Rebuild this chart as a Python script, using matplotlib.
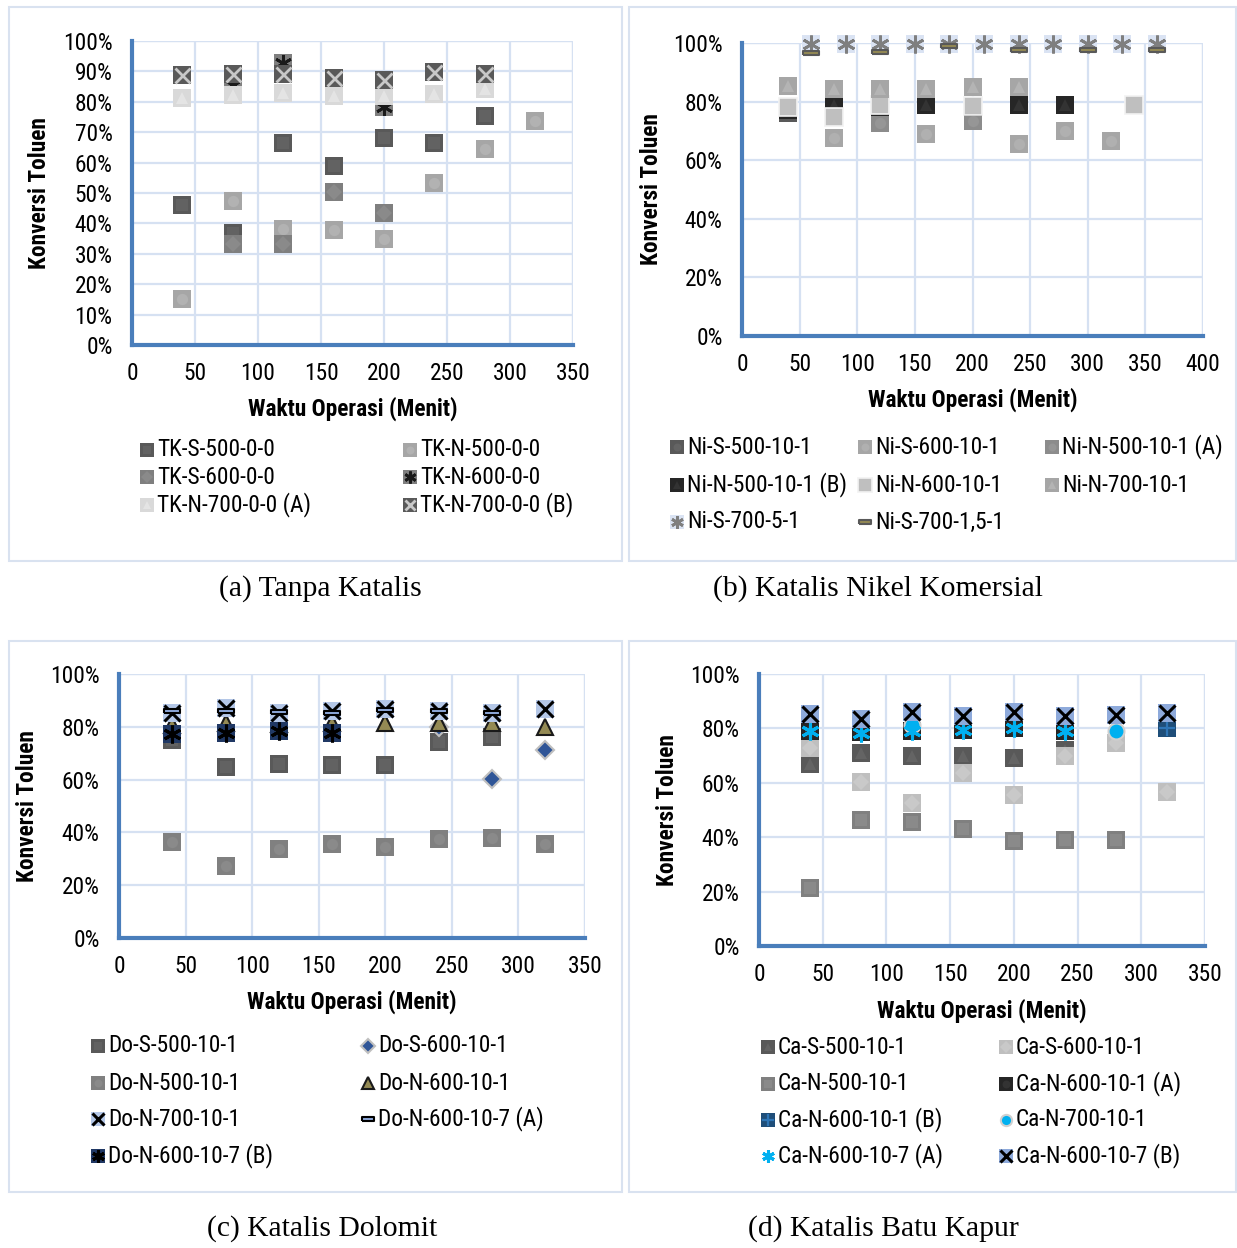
import matplotlib
matplotlib.use("Agg")
import matplotlib.pyplot as plt
from matplotlib import font_manager
from matplotlib.font_manager import FontProperties
from matplotlib.patches import Rectangle
from matplotlib.ticker import FuncFormatter, MultipleLocator

W, H = 1237, 1248
SERIF = ["Liberation Serif", "DejaVu Serif"]


def narrow_pair():
    # a narrow sans with static regular + bold faces (Arial Narrow look-alike)
    prefs = [("Roboto Condensed", 16.8, 16.8), ("Liberation Sans Narrow", 16.8, 16.8),
             ("PT Sans Narrow", 16.8, 16.8), ("DejaVu Sans", 15, 15)]
    ents = font_manager.fontManager.ttflist
    for fam, size, tsize in prefs:
        reg = bold = None
        for f in ents:
            if f.name != fam or f.style != "normal" or "[" in f.fname:
                continue
            if fam == "DejaVu Sans" and "Condensed" not in f.fname:
                continue
            if f.weight in (400, "normal", "regular") and reg is None:
                reg = f.fname
            if f.weight in (700, "bold") and bold is None:
                bold = f.fname
        if reg and bold:
            return FontProperties(fname=reg), FontProperties(fname=bold), size, tsize
    return (FontProperties(family="Liberation Sans"),
            FontProperties(family="Liberation Sans", weight="bold"), 14, 14)


FP, FPB, FS, FST = narrow_pair()

# ---------------- data (minutes, % conversion) ----------------
# (a) Tanpa Katalis
tk_s_500_t = [40, 80, 120, 160, 200, 240, 280]
tk_s_500 = [46, 37, 66.5, 58.8, 68, 66.3, 75.4]
tk_n_500_t = [40, 80, 120, 160, 200, 240, 280, 320]
tk_n_500 = [15.2, 47.5, 38, 37.7, 34.8, 53.2, 64.4, 73.6]
tk_s_600_t = [80, 120, 160, 200]
tk_s_600 = [33.1, 33.1, 50.2, 43.3]
tk_n_600_t = [80, 120, 160, 200]
tk_n_600 = [85.5, 92.6, 85, 78.4]
tk_n_700a_t = [40, 80, 120, 160, 200, 240, 280]
tk_n_700a = [81.3, 82.2, 83, 81.9, 82, 82.5, 84.1]
tk_n_700b_t = [40, 80, 120, 160, 200, 240, 280]
tk_n_700b = [88.8, 89.1, 89, 87.7, 87.2, 89.8, 89]

# (b) Katalis Nikel Komersial
ni_s_500_t = [40]
ni_s_500 = [76]
ni_s_600_t = [80, 160, 240, 280, 320]
ni_s_600 = [67.6, 68.8, 65.6, 70.1, 66.4]
ni_n_500a_t = [120, 200]
ni_n_500a = [72.6, 73.5]
ni_n_500b_t = [40, 80, 120, 160, 200, 240, 280]
ni_n_500b = [77.2, 78.7, 78, 78.7, 78.3, 79, 79]
ni_n_600_t = [40, 80, 120, 200, 340]
ni_n_600 = [78.3, 74.9, 79, 78.6, 78.7]
ni_n_700_t = [40, 80, 120, 160, 200, 240]
ni_n_700 = [85.4, 84.4, 84.4, 84.4, 85, 85]
ni_s_700_5_t = [60, 90, 120, 150, 180, 210, 240, 270, 300, 330, 360]
ni_s_700_5 = [99.5, 99.8, 99.5, 99.5, 99.8, 99.5, 99.5, 99.5, 99.5, 99.5, 99.5]
ni_s_700_15_t = [60, 120, 180, 240, 300, 360]
ni_s_700_15 = [96.5, 96.8, 98.9, 97.5, 97.5, 97.5]

# (c) Katalis Dolomit
do_s_500_t = [40, 80, 120, 160, 200, 240, 280]
do_s_500 = [75, 64.9, 65.8, 65.4, 65.4, 74.1, 76]
do_s_600_t = [240, 280, 320]
do_s_600 = [80, 60.2, 71.2]
do_n_500_t = [40, 80, 120, 160, 200, 240, 280, 320]
do_n_500 = [36.3, 27.1, 33.7, 35.7, 34.4, 37.5, 37.8, 35.7]
do_n_600_t = [40, 80, 120, 160, 200, 240, 280, 320]
do_n_600 = [80.7, 81.3, 81, 81.5, 81.3, 81.3, 81.3, 80]
do_n_700_t = [40, 80, 120, 160, 200, 240, 280, 320]
do_n_700 = [85.1, 87, 85.4, 86.1, 86.6, 85.8, 85.4, 86.6]
do_n_600_7a_t = [40, 80, 120, 160, 200, 240, 280]
do_n_600_7a = [85.8, 86.1, 85.5, 85.4, 86.4, 85.8, 85.4]
do_n_600_7b_t = [40, 80, 120, 160]
do_n_600_7b = [77.3, 77.5, 78.4, 77.8]

# (d) Katalis Batu Kapur
ca_s_500_t = [40, 80, 120, 160, 200, 240]
ca_s_500 = [67, 70.9, 69.9, 69.9, 69.1, 72]
ca_s_600_t = [40, 80, 120, 160, 200, 240, 280, 320]
ca_s_600 = [72.7, 60.3, 52.6, 63.6, 55.6, 69.7, 74.6, 56.6]
ca_n_500_t = [40, 80, 120, 160, 200, 240, 280]
ca_n_500 = [21.4, 46.2, 45.6, 43, 38.5, 38.9, 39.1]
ca_n_600a_t = [40, 80, 120, 160, 200, 240]
ca_n_600a = [79, 78.5, 79, 79.5, 80, 79]
ca_n_600b_t = [320]
ca_n_600b = [80.3]
ca_n_700_t = [120, 280]
ca_n_700 = [81.3, 78.9]
ca_n_600_7a_t = [40, 80, 120, 160, 200, 240]
ca_n_600_7a = [79.2, 78.2, 78.9, 79.5, 80.1, 79.2]
ca_n_600_7b_t = [40, 80, 120, 160, 200, 240, 280, 320]
ca_n_600_7b = [85.3, 83.4, 86.2, 84.4, 86.2, 84.4, 85, 85.6]

# ---------------- marker styles ----------------
AST = (6, 2, 0)
DASH = [(-1, -0.3), (1, -0.3), (1, 0.3), (-1, 0.3), (-1, -0.3)]


def sq(face, glyph=None, gcol=None, edge="none"):
    parts = [dict(m="s", fc=face, ec=edge, k=1.0, mew=1.2)]
    if glyph:
        parts.append(dict(m=glyph, fc=gcol, ec="none", k=0.6, mew=0))
    return parts


def line_on(parts, m, col, k=0.85, mew=2.0):
    return parts + [dict(m=m, fc="none", ec=col, k=k, mew=mew)]


def draw_mark(ax, x, y, parts, ms, **kw):
    for p in parts:
        ax.plot(x, y, linestyle="none", marker=p["m"], markersize=ms * p["k"],
                markerfacecolor=p["fc"], markeredgecolor=p["ec"],
                markeredgewidth=p["mew"], **kw)


st = {
    "TK-S-500-0-0": sq("#595959", "s", "#626262"),
    "TK-N-500-0-0": sq("#a6a6a6", "o", "#b2b2b2"),
    "TK-S-600-0-0": sq("#7f7f7f", "D", "#8a8a8a"),
    "TK-N-600-0-0": line_on(sq("#7f7f7f"), AST, "#1a1a1a", 0.9, 2.0),
    "TK-N-700-0-0 (A)": sq("#d9d9d9", "^", "#e4e4e4"),
    "TK-N-700-0-0 (B)": line_on(sq("#595959"), "x", "#c8c8c8", 0.8, 2.0),
    "Ni-S-500-10-1": sq("#595959", "o", "#646464"),
    "Ni-S-600-10-1": sq("#a6a6a6", "o", "#b0b0b0"),
    "Ni-N-500-10-1 (A)": sq("#8c8c8c", "o", "#969696"),
    "Ni-N-500-10-1 (B)": sq("#262626", "^", "#333333"),
    "Ni-N-600-10-1": sq("#bfbfbf", None, None, "#f2f2f2"),
    "Ni-N-700-10-1": sq("#a6a6a6", "^", "#b4b4b4"),
    "Ni-S-700-5-1": line_on(sq("#dae3f3"), AST, "#7f7f7f", 0.95, 2.0),
    "Ni-S-700-1,5-1": [dict(m=DASH, fc="#948a54", ec="#595959", k=0.85, mew=1.5)],
    "Do-S-500-10-1": sq("#595959", "s", "#626262"),
    "Do-S-600-10-1": [dict(m="D", fc="#2f5597", ec="#bfbfbf", k=0.7, mew=1.5)],
    "Do-N-500-10-1": sq("#808080", "o", "#8a8a8a"),
    "Do-N-600-10-1": [dict(m="^", fc="#948a54", ec="#1a1a1a", k=0.85, mew=1.5)],
    "Do-N-700-10-1": line_on(sq("#b4c7e7"), "x", "#000000", 0.85, 2.2),
    "Do-N-600-10-7 (A)": [dict(m=DASH, fc="#8faadc", ec="#000000", k=0.85, mew=1.5)],
    "Do-N-600-10-7 (B)": line_on(sq("#203864"), AST, "#000000", 0.95, 2.2),
    "Ca-S-500-10-1": sq("#595959", "^", "#646464"),
    "Ca-S-600-10-1": sq("#bfbfbf", "D", "#c9c9c9"),
    "Ca-N-500-10-1": sq("#808080", "s", "#8a8a8a"),
    "Ca-N-600-10-1 (A)": sq("#262626", "o", "#333333"),
    "Ca-N-600-10-1 (B)": line_on(sq("#1f4e79"), "+", "#2e75b6", 0.9, 1.6),
    "Ca-N-700-10-1": [dict(m="o", fc="#00b0f0", ec="#d0d0d0", k=0.85, mew=1.5)],
    "Ca-N-600-10-7 (A)": [dict(m=AST, fc="none", ec="#00b0f0", k=0.95, mew=2.2)],
    "Ca-N-600-10-7 (B)": line_on(sq("#8eaadb"), "x", "#000000", 0.85, 2.2),
}

panels = [
    dict(box=(132, 573, 41, 345), xmax=350, ystep=10,
         series=[("TK-S-500-0-0", tk_s_500_t, tk_s_500),
                 ("TK-N-500-0-0", tk_n_500_t, tk_n_500),
                 ("TK-S-600-0-0", tk_s_600_t, tk_s_600),
                 ("TK-N-600-0-0", tk_n_600_t, tk_n_600),
                 ("TK-N-700-0-0 (A)", tk_n_700a_t, tk_n_700a),
                 ("TK-N-700-0-0 (B)", tk_n_700b_t, tk_n_700b)],
         ncol=2, leg_x=[147, 410], leg_y=[450, 477, 505],
         ylab_x=40, xlab_y=409, cap="(a) Tanpa Katalis", cap_x=320, cap_y=589,
         frame=(9, 7, 622, 561)),
    dict(box=(742, 1203, 43, 336), xmax=400, ystep=20,
         series=[("Ni-S-500-10-1", ni_s_500_t, ni_s_500),
                 ("Ni-S-600-10-1", ni_s_600_t, ni_s_600),
                 ("Ni-N-500-10-1 (A)", ni_n_500a_t, ni_n_500a),
                 ("Ni-N-500-10-1 (B)", ni_n_500b_t, ni_n_500b),
                 ("Ni-N-600-10-1", ni_n_600_t, ni_n_600),
                 ("Ni-N-700-10-1", ni_n_700_t, ni_n_700),
                 ("Ni-S-700-5-1", ni_s_700_5_t, ni_s_700_5),
                 ("Ni-S-700-1,5-1", ni_s_700_15_t, ni_s_700_15)],
         ncol=3, leg_x=[677, 865, 1052], leg_y=[447, 485, 522],
         ylab_x=651, xlab_y=400, cap="(b) Katalis Nikel Komersial", cap_x=878, cap_y=589,
         frame=(629, 7, 1236, 561)),
    dict(box=(119, 585, 674, 938), xmax=350, ystep=20,
         series=[("Do-S-500-10-1", do_s_500_t, do_s_500),
                 ("Do-S-600-10-1", do_s_600_t, do_s_600),
                 ("Do-N-500-10-1", do_n_500_t, do_n_500),
                 ("Do-N-600-10-1", do_n_600_t, do_n_600),
                 ("Do-N-700-10-1", do_n_700_t, do_n_700),
                 ("Do-N-600-10-7 (A)", do_n_600_7a_t, do_n_600_7a),
                 ("Do-N-600-10-7 (B)", do_n_600_7b_t, do_n_600_7b)],
         ncol=2, leg_x=[98, 368], leg_y=[1046, 1083, 1119, 1156],
         ylab_x=28, xlab_y=1002, cap="(c) Katalis Dolomit", cap_x=322, cap_y=1229,
         frame=(9, 641, 622, 1192)),
    dict(box=(759, 1205, 674, 946), xmax=350, ystep=20,
         series=[("Ca-S-500-10-1", ca_s_500_t, ca_s_500),
                 ("Ca-S-600-10-1", ca_s_600_t, ca_s_600),
                 ("Ca-N-500-10-1", ca_n_500_t, ca_n_500),
                 ("Ca-N-600-10-1 (A)", ca_n_600a_t, ca_n_600a),
                 ("Ca-N-600-10-1 (B)", ca_n_600b_t, ca_n_600b),
                 ("Ca-N-700-10-1", ca_n_700_t, ca_n_700),
                 ("Ca-N-600-10-7 (A)", ca_n_600_7a_t, ca_n_600_7a),
                 ("Ca-N-600-10-7 (B)", ca_n_600_7b_t, ca_n_600_7b)],
         ncol=2, leg_x=[768, 1006], leg_y=[1047, 1084, 1120, 1156],
         ylab_x=668, xlab_y=1011, cap="(d) Katalis Batu Kapur", cap_x=883, cap_y=1229,
         frame=(629, 641, 1236, 1192)),
]

fig = plt.figure(figsize=(W / 100, H / 100), dpi=100)
fig.patch.set_facecolor("white")

over = fig.add_axes([0, 0, 1, 1], zorder=5)
over.set_xlim(0, W)
over.set_ylim(H, 0)
over.set_axis_off()
over.patch.set_alpha(0)

GRID = "#d6e1f2"
AXIS = "#4a7ebb"

for p in panels:
    x0, x1, y0, y1 = p["box"]
    ax = fig.add_axes([x0 / W, 1 - y1 / H, (x1 - x0) / W, (y1 - y0) / H], zorder=2)
    for name, t, v in p["series"]:
        draw_mark(ax, t, v, st[name], 13.5, clip_on=False)
    ax.set_xlim(0, p["xmax"])
    ax.set_ylim(0, 100)
    ax.xaxis.set_major_locator(MultipleLocator(50))
    ax.yaxis.set_major_locator(MultipleLocator(p["ystep"]))
    ax.yaxis.set_major_formatter(FuncFormatter(lambda v, _: f"{v:.0f}%"))
    ax.grid(True, color=GRID, linewidth=1.6)
    ax.set_axisbelow(True)
    for s in ("top", "right"):
        ax.spines[s].set_visible(False)
    for s in ("left", "bottom"):
        ax.spines[s].set_color(AXIS)
        ax.spines[s].set_linewidth(3)
    ax.tick_params(length=0, colors="#000000")
    ax.tick_params(axis="x", pad=12)
    ax.tick_params(axis="y", pad=14)
    for lab in ax.get_xticklabels() + ax.get_yticklabels():
        lab.set_fontproperties(FP)
        lab.set_fontsize(FS)
    ax.axvline(p["xmax"], color=GRID, linewidth=1.6, zorder=0)
    ax.axhline(100, color=GRID, linewidth=1.6, zorder=0)

    fx0, fy0, fx1, fy1 = p["frame"]
    fig.patches.append(Rectangle((fx0 / W, 1 - fy1 / H), (fx1 - fx0) / W, (fy1 - fy0) / H,
                                 transform=fig.transFigure, fill=False,
                                 edgecolor="#d9e2f0", linewidth=1.5, zorder=0))

    over.text(p["ylab_x"], (y0 + y1) / 2, "Konversi Toluen", rotation=90,
              ha="center", va="center", fontproperties=FPB, fontsize=FST)
    over.text((x0 + x1) / 2, p["xlab_y"], "Waktu Operasi (Menit)",
              ha="center", va="center", fontproperties=FPB, fontsize=FST)
    over.text(p["cap_x"], p["cap_y"], p["cap"], ha="center", va="center",
              fontsize=21.3, family=SERIF)

    ncol = p["ncol"]
    for i, (name, _, _) in enumerate(p["series"]):
        r, c = divmod(i, ncol)
        lx, ly = p["leg_x"][c], p["leg_y"][r]
        draw_mark(over, [lx], [ly], st[name], 9.5)
        over.text(lx + 10, ly, name, ha="left", va="center", fontproperties=FP, fontsize=FS)

fig.savefig("out.png", dpi=100, facecolor="white")
